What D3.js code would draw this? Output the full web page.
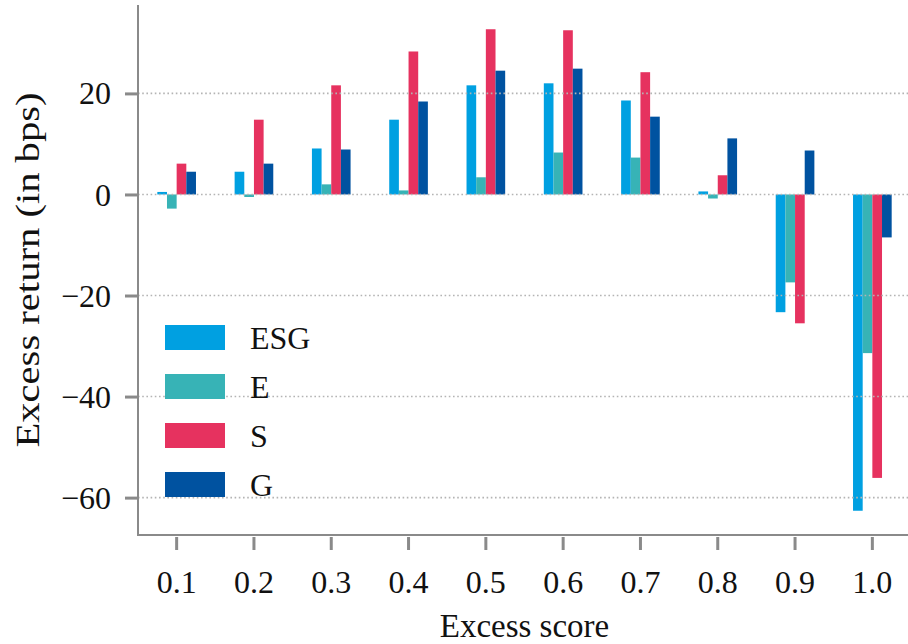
<!DOCTYPE html>
<html>
<head>
<meta charset="utf-8">
<script src="https://cdn.jsdelivr.net/npm/d3@7"></script>
<style>
  html, body { margin: 0; padding: 0; background: #fff; }
  svg { display: block; }
  text { font-family: "Liberation Serif", "DejaVu Serif", serif; fill: #111; }
</style>
</head>
<body>
<svg id="chart" width="908" height="644"></svg>
<script>
// Excess score buckets
const categories = ["0.1", "0.2", "0.3", "0.4", "0.5", "0.6", "0.7", "0.8", "0.9", "1.0"];
// Excess return per bucket, in bps
const esg = [0.5, 4.5, 9.1, 14.8, 21.6, 22.0, 18.6, 0.6, -23.3, -62.6];
const e   = [-2.8, -0.5, 2.0, 0.8, 3.4, 8.3, 7.3, -0.8, -17.4, -31.4];
const s   = [6.1, 14.8, 21.6, 28.3, 32.7, 32.5, 24.2, 3.8, -25.5, -56.1];
const g   = [4.5, 6.1, 8.9, 18.4, 24.5, 24.9, 15.4, 11.1, 8.7, -8.5];
const yTicks = [20, 0, -20, -40, -60];

const seriesNames = ["ESG", "E", "S", "G"];
const seriesColors = ["#00a0e1", "#37b3b6", "#e6325f", "#0052a0"];
const series = [esg, e, s, g];

const svg = d3.select("#chart");
const plot = { left: 138, right: 911, top: 5, bottom: 535 };

const x = d3.scaleBand().domain(categories).range([plot.left, plot.right]).paddingInner(0).paddingOuter(0);
const y = d3.scaleLinear().domain([-67.4, 37.5]).range([plot.bottom, plot.top]);

const step = x.bandwidth();
const barW = step * 0.5 / series.length;

// bars
series.forEach((vals, si) => {
  svg.append("g")
    .selectAll("rect")
    .data(vals)
    .join("rect")
    .attr("x", (d, i) => x(categories[i]) + step / 2 - step * 0.25 + si * barW)
    .attr("width", barW)
    .attr("y", d => y(Math.max(0, d)))
    .attr("height", d => Math.abs(y(d) - y(0)))
    .attr("fill", seriesColors[si]);
});

// dotted horizontal grid, drawn over the bars
svg.append("g")
  .selectAll("line")
  .data(yTicks)
  .join("line")
  .attr("x1", plot.left)
  .attr("x2", plot.right)
  .attr("y1", d => y(d))
  .attr("y2", d => y(d))
  .attr("stroke", "#b4b4b4")
  .attr("stroke-width", 1.6)
  .attr("stroke-dasharray", "1.6,2.6");

// y axis
const yAxis = d3.axisLeft(y).tickValues(yTicks).tickSize(13).tickPadding(14)
  .tickFormat(d => d < 0 ? "\u2212" + Math.abs(d) : String(d));
const yg = svg.append("g").attr("transform", `translate(${plot.left},0)`).call(yAxis);
yg.select(".domain").remove();
yg.selectAll(".tick line").attr("stroke", "#8a8a8a").attr("stroke-width", 3);
yg.selectAll(".tick text").attr("font-size", 32).attr("dy", "0.33em")
  .style("font-family", "'Liberation Serif', serif").attr("fill", "#111");
svg.append("line")
  .attr("x1", plot.left).attr("x2", plot.left)
  .attr("y1", plot.top).attr("y2", plot.bottom)
  .attr("stroke", "#8a8a8a").attr("stroke-width", 2);

// x axis
const xAxis = d3.axisBottom(x).tickSize(13).tickPadding(20);
const xg = svg.append("g").attr("transform", `translate(0,${plot.bottom + 2})`).call(xAxis);
xg.select(".domain").remove();
xg.selectAll(".tick line").attr("stroke", "#8a8a8a").attr("stroke-width", 3);
xg.selectAll(".tick text").attr("font-size", 32).attr("dy", "0.71em")
  .style("font-family", "'Liberation Serif', serif").attr("fill", "#111");
svg.append("line")
  .attr("x1", plot.left - 1).attr("x2", plot.right)
  .attr("y1", plot.bottom).attr("y2", plot.bottom)
  .attr("stroke", "#8a8a8a").attr("stroke-width", 2);

// axis titles
svg.append("text")
  .attr("x", (plot.left + plot.right) / 2)
  .attr("y", 637)
  .attr("text-anchor", "middle")
  .attr("font-size", 33)
  .text("Excess score");

svg.append("text")
  .attr("transform", `translate(39,${(plot.top + plot.bottom) / 2}) rotate(-90)`)
  .attr("text-anchor", "middle")
  .attr("font-size", 33)
  .attr("textLength", 355)
  .attr("lengthAdjust", "spacingAndGlyphs")
  .text("Excess return (in bps)");

// legend
const legend = svg.append("g").attr("transform", "translate(165,325)");
seriesNames.forEach((name, i) => {
  const row = legend.append("g").attr("transform", `translate(0,${i * 49})`);
  row.append("rect").attr("width", 60).attr("height", 25).attr("fill", seriesColors[i]);
  row.append("text").attr("x", 85).attr("y", 12.5).attr("dy", "0.35em")
    .attr("font-size", 32).text(name);
});
</script>
</body>
</html>
